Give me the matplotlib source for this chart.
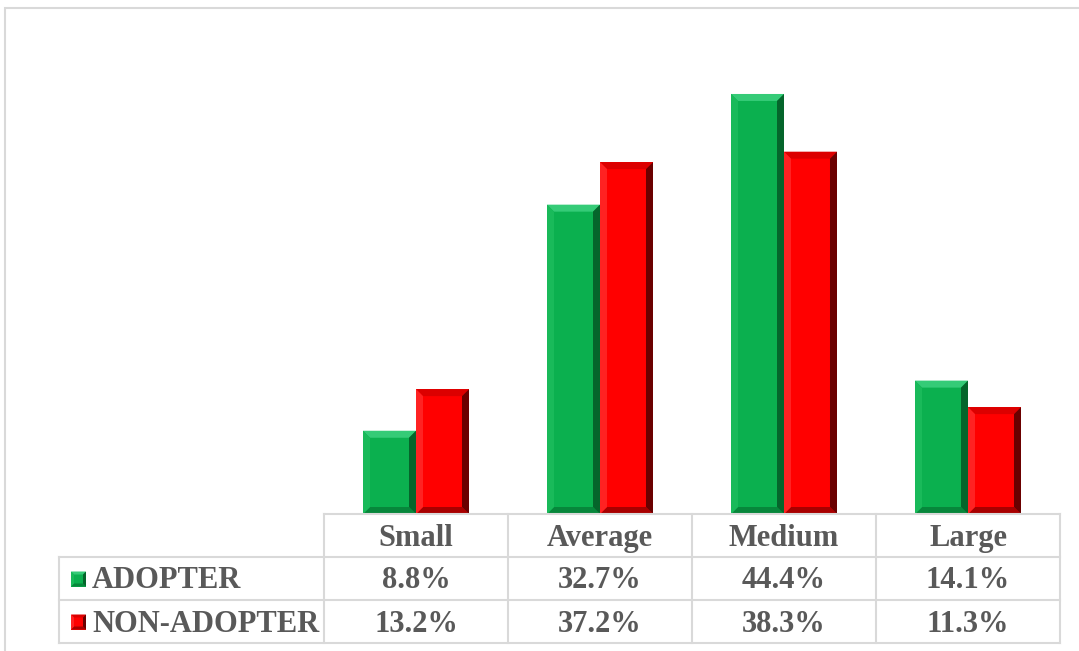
import numpy as np
import matplotlib
matplotlib.use("Agg")
import matplotlib.pyplot as plt
from matplotlib.patches import Polygon, Rectangle
from matplotlib.lines import Line2D
from matplotlib.transforms import blended_transform_factory

categories = ["Small", "Average", "Medium", "Large"]
series_names = ["ADOPTER", "NON-ADOPTER"]
adopter = [8.8, 32.7, 44.4, 14.1]
non_adopter = [13.2, 37.2, 38.3, 11.3]
labels_adopter = ["8.8%", "32.7%", "44.4%", "14.1%"]
labels_non = ["13.2%", "37.2%", "38.3%", "11.3%"]

W, H = 1079, 651
fig = plt.figure(figsize=(W / 100, H / 100), dpi=100)
fig.patch.set_facecolor("white")

def fx(px):
    return px / W

def fy(py):
    return 1 - py / H

GREEN = dict(face="#0BB04F", top="#35CB77", left="#19BA5A", right="#05652B", bottom="#07873B")
RED = dict(face="#FF0000", top="#DC0000", left="#FF2222", right="#6A0000", bottom="#A80000")
TXT = "#595959"
GRID = "#D9D9D9"
FONT = ["Liberation Serif", "DejaVu Serif"]

ax = fig.add_axes([fx(324), fy(514), fx(1060) - fx(324), fy(41) - fy(514)])
ax.set_xlim(-0.5, 3.5)
ax.set_ylim(0, 50)
ax.axis("off")

x = np.arange(len(categories))
width = 0.288
bars_a = ax.bar(x - width / 2, adopter, width, color=GREEN["face"], linewidth=0)
bars_n = ax.bar(x + width / 2, non_adopter, width, color=RED["face"], linewidth=0)

pos = ax.get_position()
ppx = pos.width * W / (ax.get_xlim()[1] - ax.get_xlim()[0])
ppy = pos.height * H / (ax.get_ylim()[1] - ax.get_ylim()[0])


def bevel(target, x0, y0, x1, y1, bx, by, pal, transform):
    polys = {
        "top": [(x0, y1), (x1, y1), (x1 - bx, y1 - by), (x0 + bx, y1 - by)],
        "bottom": [(x0, y0), (x1, y0), (x1 - bx, y0 + by), (x0 + bx, y0 + by)],
        "left": [(x0, y0), (x0, y1), (x0 + bx, y1 - by), (x0 + bx, y0 + by)],
        "right": [(x1, y0), (x1, y1), (x1 - bx, y1 - by), (x1 - bx, y0 + by)],
    }
    for key in ["top", "bottom", "left", "right"]:
        p = Polygon(polys[key], closed=True, facecolor=pal[key], edgecolor="none",
                    transform=transform, clip_on=False, zorder=3)
        target.add_artist(p) if target is fig else target.add_patch(p)


b = 7
for bars, pal in [(bars_a, GREEN), (bars_n, RED)]:
    for p in bars:
        x0, y0 = p.get_x(), p.get_y()
        x1, y1 = x0 + p.get_width(), y0 + p.get_height()
        bevel(ax, x0, y0, x1, y1, b / ppx, b / ppy, pal, ax.transData)

# Table
bt = blended_transform_factory(ax.transData, fig.transFigure)
edges = np.arange(len(categories) + 1) - 0.5
lw = 1.5
fig.add_artist(Line2D([edges[0], edges[-1]], [fy(514), fy(514)], transform=bt, color=GRID, lw=lw))
xr = ax.transData.transform((edges[-1], 0))[0] / W
for yy in [557, 600, 643]:
    fig.add_artist(Line2D([fx(59), xr], [fy(yy), fy(yy)], transform=fig.transFigure, color=GRID, lw=lw))
fig.add_artist(Line2D([fx(59), fx(59)], [fy(557), fy(643)], transform=fig.transFigure, color=GRID, lw=lw))
for e in edges:
    fig.add_artist(Line2D([e, e], [fy(514), fy(643)], transform=bt, color=GRID, lw=lw))

fs = 22
for i, c in enumerate(categories):
    fig.text(x[i], fy(546), c, transform=bt, ha="center", va="baseline",
             fontsize=fs, fontweight="bold", color=TXT, family=FONT)
    fig.text(x[i], fy(588.5), labels_adopter[i], transform=bt, ha="center", va="baseline",
             fontsize=fs, fontweight="bold", color=TXT, family=FONT)
    fig.text(x[i], fy(631.5), labels_non[i], transform=bt, ha="center", va="baseline",
             fontsize=fs, fontweight="bold", color=TXT, family=FONT)

for name, yb, pal in [(series_names[0], 588.5, GREEN), (series_names[1], 631.5, RED)]:
    fig.text(fx(92), fy(yb), name, ha="left", va="baseline", fontsize=fs,
             fontweight="bold", color=TXT, family=FONT)
    mx0, mx1 = fx(71), fx(86)
    my0, my1 = fy(yb - 2), fy(yb - 17)
    fig.add_artist(Rectangle((mx0, my0), mx1 - mx0, my1 - my0, transform=fig.transFigure,
                             facecolor=pal["face"], edgecolor="none", zorder=2))
    bevel(fig, mx0, my0, mx1, my1, 3 / W, 3 / H, pal, fig.transFigure)

# outer chart border
fig.add_artist(Rectangle((fx(4.5), -0.5), 2, fy(7.5) + 0.5, transform=fig.transFigure,
                         fill=False, edgecolor=GRID, lw=1.5))

fig.savefig("out.png", dpi=100, facecolor="white")
